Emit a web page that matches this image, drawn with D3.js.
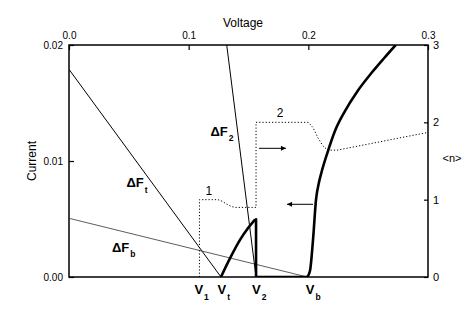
<!DOCTYPE html>
<html><head><meta charset="utf-8">
<script src="https://cdn.jsdelivr.net/npm/d3@7"></script>
<style>
html,body{margin:0;padding:0;background:#fff;}
text{font-family:"Liberation Sans",Arial,Helvetica,sans-serif;fill:#000;}
</style></head>
<body><svg id="c" width="471" height="327"></svg>
<script>
// ---- data ----
const voltageTicks = [0, 0.1, 0.2, 0.3];
const currentTicks = [0, 0.01, 0.02];
const nTicks = [0, 1, 2, 3];

// free-energy lines (Voltage, Current)
const dFtV = [0, 0.127];      const dFtC = [0.0179, 0];
const dFbV = [0, 0.1991];     const dFbC = [0.00506, 0];
const dF2V = [0.1318, 0.1563]; const dF2C = [0.02, 0];

// thick current curve: first branch, drop, second branch
const rise1V = [0.127, 0.1345, 0.1429, 0.1495, 0.1556];
const rise1C = [0, 0.0016, 0.0032, 0.0042, 0.00497];
const dropV = [0.1556, 0.1563, 0.1563, 0.1991];
const dropC = [0.00497, 0.00497, 0, 0];
const rise2V = [0.1991, 0.2014, 0.2039, 0.2064, 0.2091, 0.2116, 0.2156, 0.2225, 0.2306, 0.2409, 0.2534, 0.2634, 0.2730];
const rise2C = [0, 0.00054, 0.00319, 0.00664, 0.00825, 0.00925, 0.01060, 0.01265, 0.0143, 0.01600, 0.01767, 0.01888, 0.02];

// dotted <n> curve
const nV = [0.109, 0.109, 0.1245, 0.128, 0.132, 0.136, 0.139, 0.1563, 0.1563, 0.2, 0.204, 0.208, 0.212, 0.216, 0.224, 0.3];
const nVal = [0, 1.0, 1.0, 0.98, 0.94, 0.91, 0.9, 0.9, 2.0, 2.0, 1.93, 1.8, 1.7, 1.64, 1.64, 1.87];

// marked voltages
const vMarks = [{name:"V", sub:"1", v:0.109}, {name:"V", sub:"t", v:0.127}, {name:"V", sub:"2", v:0.1563}, {name:"V", sub:"b", v:0.1991}];

// arrows (Voltage from, Voltage to, <n>)
const arrows = [{from:0.1587, to:0.1813, n:1.664}, {from:0.2039, to:0.1822, n:0.94}];

// ---- drawing ----
const svg = d3.select("#c");
const L = 69, R = 428, T = 45, B = 277;
const x = d3.scaleLinear().domain([0, 0.3]).range([L, R]);
const yC = d3.scaleLinear().domain([0, 0.02]).range([B, T]);
const yN = d3.scaleLinear().domain([0, 3]).range([B, T]);

const defs = svg.append("defs");
defs.append("marker").attr("id","ah").attr("viewBox","0 0 10 10").attr("refX",10).attr("refY",5)
  .attr("markerWidth",7).attr("markerHeight",5).attr("markerUnits","userSpaceOnUse").attr("orient","auto")
  .append("path").attr("d","M0,0L10,5L0,10Z").attr("fill","#000");
defs.append("clipPath").attr("id","clip").append("rect").attr("x",L).attr("y",T).attr("width",R-L).attr("height",B-T);

// axes
const gTop = svg.append("g").attr("transform",`translate(0,${T})`)
  .call(d3.axisTop(x).tickValues(voltageTicks).tickFormat(d3.format(".1f")).tickSizeInner(-5).tickSizeOuter(0).tickPadding(6));
const gLeft = svg.append("g").attr("transform",`translate(${L},0)`)
  .call(d3.axisLeft(yC).tickValues(currentTicks).tickFormat(d3.format(".2f")).tickSizeInner(-5).tickSizeOuter(0).tickPadding(6));
const gRight = svg.append("g").attr("transform",`translate(${R},0)`)
  .call(d3.axisRight(yN).tickValues(nTicks).tickFormat(d3.format("d")).tickSizeInner(-4).tickSizeOuter(0).tickPadding(5));
[gTop,gLeft,gRight].forEach(g=>{
  g.attr("font-size",null).attr("font-family",null);
  g.select(".domain").remove();
  g.selectAll(".tick line").attr("stroke","#000").attr("stroke-width",1.2);
  g.selectAll(".tick text").style("font-size","10px").attr("fill","#000");
});
gRight.selectAll(".tick text").style("font-size","11px");

// frame
svg.append("rect").attr("x",L).attr("y",T).attr("width",R-L).attr("height",B-T)
  .attr("fill","none").attr("stroke","#000").attr("stroke-width",1.5);

const plot = svg.append("g").attr("clip-path","url(#clip)");
const zip = (a,b)=>a.map((v,i)=>[v,b[i]]);
const lineC = d3.line().x(d=>x(d[0])).y(d=>yC(d[1]));
const smoothC = d3.line().x(d=>x(d[0])).y(d=>yC(d[1])).curve(d3.curveMonotoneX);

plot.append("path").attr("d",lineC(zip(dFtV,dFtC))).attr("fill","none").attr("stroke","#000").attr("stroke-width",1);
plot.append("path").attr("d",lineC(zip(dFbV,dFbC))).attr("fill","none").attr("stroke","#333").attr("stroke-width",0.8);
plot.append("path").attr("d",lineC(zip(dF2V,dF2C))).attr("fill","none").attr("stroke","#000").attr("stroke-width",1);

const dotted = d3.line().x(d=>x(d[0])).y(d=>yN(d[1]));
plot.append("path").attr("d",dotted(zip(nV,nVal))).attr("fill","none").attr("stroke","#000")
  .attr("stroke-width",1).attr("stroke-dasharray","1.2,2");

const thick = {fill:"none", stroke:"#000", "stroke-width":2.6, "stroke-linejoin":"round"};
[smoothC(zip(rise1V,rise1C)), lineC(zip(dropV,dropC)), smoothC(zip(rise2V,rise2C))].forEach(d=>{
  const p = plot.append("path").attr("d",d);
  Object.entries(thick).forEach(([k,v])=>p.attr(k,v));
});

arrows.forEach(a=>{
  svg.append("line").attr("x1",x(a.from)).attr("x2",x(a.to)).attr("y1",yN(a.n)).attr("y2",yN(a.n))
    .attr("stroke","#000").attr("stroke-width",1).attr("marker-end","url(#ah)");
});

// step labels
svg.append("text").attr("x",x(0.1168)).attr("y",194.5).attr("text-anchor","middle").attr("font-size","12px").text("1");
svg.append("text").attr("x",x(0.1763)).attr("y",117).attr("text-anchor","middle").attr("font-size","12px").text("2");

// subscripted labels
function subLabel(xp, yp, main, sub, fs, sfs, dy){
  const t = svg.append("text").attr("x",xp).attr("y",yp).attr("font-weight","bold").attr("font-size",fs+"px");
  t.append("tspan").text(main);
  t.append("tspan").attr("font-size",sfs+"px").attr("dy",dy).attr("dx",1).text(sub);
  return t;
}
subLabel(126.5, 187.3, "ΔF", "t", 13, 8.5, 6);
subLabel(112, 252.3, "ΔF", "b", 13, 8.5, 4.5);
subLabel(210.5, 135.7, "ΔF", "2", 13, 8.5, 5);

vMarks.forEach((m,i)=>{
  const off = [-5, -3.5, -4, -1.5][i];
  subLabel(x(m.v)+off, 294, m.name, m.sub, 13, 8.5, 6);
});

// axis titles
svg.append("text").attr("x",243).attr("y",27).attr("text-anchor","middle").attr("font-size","12px").text("Voltage");
svg.append("text").attr("transform","translate(36,161) rotate(-90)").attr("text-anchor","middle").attr("font-size","12px").text("Current");
svg.append("text").attr("x",452).attr("y",162).attr("text-anchor","middle").attr("font-size","11px").text("<n>");
</script></body></html>
